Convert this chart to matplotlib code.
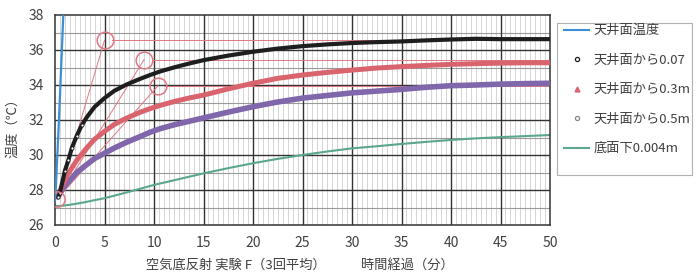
import matplotlib
matplotlib.use("Agg")
import matplotlib.pyplot as plt
from matplotlib.lines import Line2D
from matplotlib.patches import Rectangle
import numpy as np

plt.rcParams['font.family'] = ['Noto Sans CJK JP', 'DejaVu Sans']

# ---- data ----
blue_t = [0.0, 0.1, 0.4, 0.84, 1.0]
blue_v = [27.4, 28.3, 32.0, 38.0, 40.0]

black_t = [0.3, 0.5, 1.0, 1.35, 1.7, 2.2, 2.7, 3.2, 4, 5, 6, 7.2, 8.5, 9.6, 10.6, 12, 13.5, 15,
           17.5, 20, 22.5, 25, 27.5, 30, 32.5, 35, 37.5, 40, 42.5, 45, 47.5, 50]
black_v = [27.6, 27.85, 29.1, 29.7, 30.4, 31.1, 31.7, 32.15, 32.75, 33.25, 33.67, 34.02, 34.33,
           34.57, 34.77, 35.0, 35.22, 35.42, 35.68, 35.9, 36.08, 36.22, 36.32, 36.4, 36.45, 36.49,
           36.55, 36.6, 36.64, 36.62, 36.62, 36.62]

red_t = [0.3, 0.7, 1.35, 2.2, 3.2, 4, 5, 6, 7.2, 8.5, 9.6, 10.6, 12, 13.5, 15, 17.5, 20, 22.5,
         25, 27.5, 30, 32.5, 35, 37.5, 40, 42.5, 45, 47.5, 50]
red_v = [27.6, 28.2, 28.95, 29.7, 30.4, 30.9, 31.35, 31.75, 32.1, 32.42, 32.65, 32.83, 33.05,
         33.25, 33.42, 33.78, 34.1, 34.38, 34.57, 34.72, 34.85, 34.97, 35.05, 35.12, 35.18,
         35.22, 35.25, 35.27, 35.27]

purple_t = [0.3, 0.8, 1.5, 2.2, 3.2, 4, 5, 6, 7.2, 8.5, 9.6, 10.6, 12, 13.5, 15, 17.5, 20, 22.5,
            25, 27.5, 30, 32.5, 35, 37.5, 40, 42.5, 45, 47.5, 50]
purple_v = [27.6, 28.1, 28.55, 29.0, 29.45, 29.8, 30.1, 30.4, 30.72, 31.03, 31.3, 31.5, 31.72,
            31.92, 32.12, 32.45, 32.76, 33.03, 33.25, 33.4, 33.55, 33.65, 33.75, 33.87, 33.96,
            34.0, 34.05, 34.08, 34.1]

green_t = [0, 0.5, 1, 2, 3, 4, 5, 7.5, 10, 12.5, 15, 17.5, 20, 22.5, 25, 27.5, 30, 32.5, 35,
           37.5, 40, 42.5, 45, 47.5, 50]
green_v = [27.1, 27.08, 27.12, 27.2, 27.3, 27.42, 27.53, 27.9, 28.29, 28.62, 28.95, 29.25, 29.53,
           29.78, 30.0, 30.2, 30.38, 30.5, 30.63, 30.75, 30.86, 30.95, 31.02, 31.08, 31.14]

callout_x = [5.0, 9.0, 10.4]
callout_y = [36.55, 35.45, 33.95]
origin_x = 0.25
origin_y = 27.5

legend_labels = ['天井面温度', '天井面から0.07', '天井面から0.3m', '天井面から0.5m', '底面下0.004m']
x_ticks = [0, 5, 10, 15, 20, 25, 30, 35, 40, 45, 50]
y_ticks = [26, 28, 30, 32, 34, 36, 38]

# ---- colours ----
c_blue = '#3d8fd4'
c_black = '#1e1e1e'
c_red = '#d9646e'
c_purple = '#8066aa'
c_green = '#5aa78a'
c_pink = '#e07883'
c_text = '#404040'

fig = plt.figure(figsize=(7, 2.8), dpi=100)
ax = fig.add_axes([55/700, 1-225/280, 495/700, 210/280])
ax.set_xlim(0, 50)
ax.set_ylim(26, 38)

# grid
for x in np.arange(0.5, 50, 0.5):
    if abs(x % 5) > 1e-9:
        ax.axvline(x, color='#cfcfcf', lw=0.6, zorder=0)
for y in np.arange(27, 38, 2):
    ax.axhline(y, color='#9a9a9a', lw=0.8, zorder=0)
for x in x_ticks[1:-1]:
    ax.axvline(x, color='#333333', lw=1.0, zorder=0.5)
for y in y_ticks[1:-1]:
    ax.axhline(y, color='#333333', lw=1.0, zorder=0.5)

# callouts
for cx, cy in zip(callout_x, callout_y):
    ax.plot([origin_x, cx], [origin_y, cy], color=c_pink, lw=0.7, zorder=1)
    ax.plot([cx + 0.75, 50], [cy, cy], color=c_pink, lw=0.7, zorder=1)
    ax.plot([cx], [cy], marker='o', ms=12, mfc='none', mec=c_pink, mew=1.1, zorder=5)
ax.plot([origin_x], [origin_y], marker='o', ms=11, mfc='none', mec=c_pink, mew=1.1, zorder=5)

# series
ax.plot(green_t, green_v, color=c_green, lw=1.5, zorder=2)
ax.plot(purple_t, purple_v, color=c_purple, lw=4.0, solid_capstyle='round',
        solid_joinstyle='round', zorder=3)
ax.plot(red_t, red_v, color=c_red, lw=3.6, solid_capstyle='round', solid_joinstyle='round',
        zorder=3)
ax.plot(black_t, black_v, color=c_black, lw=3.0, solid_capstyle='round',
        solid_joinstyle='round', zorder=4)
ax.plot(black_t[:7], black_v[:7], ls='none', marker='o', ms=2.2, mfc='white', mec=c_black,
        mew=0.6, zorder=4.5)
ax.plot(blue_t, blue_v, color=c_blue, lw=1.6, zorder=4)

# axes styling
for s in ax.spines.values():
    s.set_color('#333333')
    s.set_linewidth(1.1)
ax.set_xticks(x_ticks)
ax.set_yticks(y_ticks)
ax.tick_params(length=0, labelsize=10, colors=c_text, pad=8)

fig.text(13/700, 1-125/280, '温度（℃）', rotation=90, ha='center', va='center',
         fontsize=9.5, color=c_text)
fig.text(236/700, 1-265/280, '空気底反射 実験 F（3回平均）', ha='center', va='center',
         fontsize=9.5, color=c_text)
fig.text(407/700, 1-265/280, '時間経過（分）', ha='center', va='center',
         fontsize=9.5, color=c_text)

# legend
handles = [
    Line2D([], [], color=c_blue, lw=1.5),
    Line2D([], [], ls='none', marker='o', ms=3, mfc='white', mec=c_black, mew=0.9),
    Line2D([], [], ls='none', marker='^', ms=3.5, mfc=c_red, mec=c_red),
    Line2D([], [], ls='none', marker='o', ms=3, mfc='white', mec='#888888', mew=0.9),
    Line2D([], [], color=c_green, lw=1.5),
]
fig.patches.append(Rectangle((557/700, 1-175/280), 135/700, 152/280, transform=fig.transFigure,
                             fill=False, edgecolor='#b0b0b0', lw=0.8))
leg = fig.legend(handles, legend_labels, loc='upper left',
                 bbox_to_anchor=(555/700, 1-15/280), frameon=False, fontsize=9.5,
                 labelspacing=1.25, handlelength=1.9, handletextpad=0.3, borderpad=0.2)
for t in leg.get_texts():
    t.set_color(c_text)

fig.savefig('out.png', dpi=100, facecolor='white')
